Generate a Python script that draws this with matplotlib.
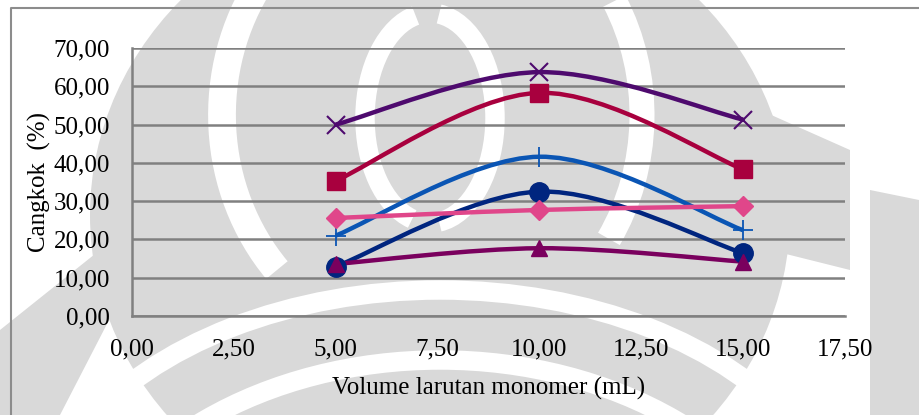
import numpy as np
import matplotlib.pyplot as plt
from matplotlib.path import Path
from matplotlib.patches import PathPatch, Ellipse, Arc, Polygon

# Volume larutan monomer (mL)
volume = [5.0, 10.0, 15.0]

# Persen cangkok tiap seri
seri_x = [50.0, 63.7, 51.3]
seri_kotak = [35.3, 58.3, 38.3]
seri_plus = [21.0, 41.6, 22.4]
seri_bulat = [12.9, 32.5, 16.4]
seri_belah = [25.6, 27.7, 28.7]
seri_segitiga = [13.6, 17.7, 14.2]

x_ticks = [0, 2.5, 5, 7.5, 10, 12.5, 15, 17.5]
y_ticks = [0, 10, 20, 30, 40, 50, 60, 70]

plt.rcParams["font.family"] = ["Liberation Serif", "DejaVu Serif"]

W, H = 919, 415


def kurva_halus(xs, ys):
    # Bezier kubik ala "smoothed line" Excel
    pts = np.column_stack([xs, ys]).astype(float)
    n = len(pts)
    verts = [pts[0]]
    codes = [Path.MOVETO]
    for i in range(n - 1):
        p0 = pts[i - 1] if i > 0 else pts[i]
        p1 = pts[i]
        p2 = pts[i + 1]
        p3 = pts[i + 2] if i + 2 < n else pts[i + 1]
        c1 = p1 + (p2 - p0) / 6.0
        c2 = p2 - (p3 - p1) / 6.0
        verts += [c1, c2, p2]
        codes += [Path.CURVE4] * 3
    return Path(verts, codes)


fig = plt.figure(figsize=(W / 100, H / 100), dpi=100)

# latar watermark abu-abu (dalam piksel, y dari atas)
bg = fig.add_axes([0, 0, 1, 1], zorder=-1)
bg.set_xlim(0, W)
bg.set_ylim(H, 0)
bg.axis("off")
abu = "#d9d9d9"
bg.add_patch(Ellipse((440, 215), 700, 640, color=abu, lw=0))
bg.add_patch(Polygon([[760, 110], [850, 150], [850, 270], [770, 250]],
                     color=abu, lw=0))
bg.add_patch(Polygon([[870, 190], [919, 200], [919, 415], [870, 415]],
                     color=abu, lw=0))
bg.add_patch(Polygon([[0, 330], [100, 250], [140, 260], [60, 415], [0, 415]],
                     color=abu, lw=0))
for (cx, cy, w, h, t1, t2, lw) in [
    (432, 115, 420, 460, 135, 218, 20),
    (432, 115, 420, 460, -32, 35, 18),
    (430, 118, 130, 210, 100, 262, 14),
    (430, 118, 130, 210, -85, 85, 14),
    (440, 560, 820, 540, 200, 340, 14),
    (440, 640, 760, 560, 190, 350, 14),
]:
    bg.add_patch(Arc((cx, cy), w, h, theta1=t1, theta2=t2,
                     color="white", lw=lw))

# bingkai luar grafik
bg.plot([11, 11, W + 5], [H + 5, 8, 8], color="#8c8c8c", linewidth=1.5,
        clip_on=False, zorder=5)

ax = fig.add_axes([132 / W, 1 - 316 / H, (845 - 132) / W, (316 - 48) / H])
ax.set_facecolor("none")

seri = [
    (seri_x, "#4e0a6e", "x", 13, 1.5),
    (seri_kotak, "#a8003e", "s", 13, 1),
    (seri_plus, "#0a55b4", "+", 14, 1.3),
    (seri_bulat, "#00257f", "o", 14, 1),
    (seri_belah, "#e0468a", "D", 10, 1),
    (seri_segitiga, "#7a005e", "^", 12, 1),
]

for ys, warna, mk, ms, mew in seri:
    ax.add_patch(PathPatch(kurva_halus(volume, ys), facecolor="none",
                           edgecolor=warna, linewidth=3.2, zorder=3))
    ax.plot(volume, ys, linestyle="none", marker=mk, markersize=ms,
            color=warna, markeredgewidth=mew, zorder=4)

ax.set_xlim(0, 17.5)
ax.set_ylim(0, 70)
ax.set_xticks(x_ticks)
ax.set_yticks(y_ticks)
ax.set_xticklabels([f"{v:.2f}".replace(".", ",") for v in x_ticks])
ax.set_yticklabels([f"{v:.2f}".replace(".", ",") for v in y_ticks])
ax.tick_params(length=0, labelsize=18)
ax.tick_params(axis="x", pad=16)
ax.tick_params(axis="y", pad=16)
ax.grid(axis="y", color="#808080", linewidth=1.8)
ax.set_axisbelow(True)
for s in ["top", "right"]:
    ax.spines[s].set_visible(False)
for s in ["left", "bottom"]:
    ax.spines[s].set_color("#808080")
    ax.spines[s].set_linewidth(1.8)

ax.set_xlabel("Volume larutan monomer (mL)", fontsize=18, labelpad=12)
ax.set_ylabel("Cangkok  (%)", fontsize=18, labelpad=2)

fig.savefig("out.png", dpi=100)
